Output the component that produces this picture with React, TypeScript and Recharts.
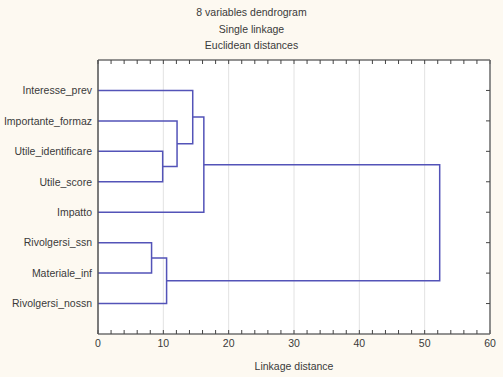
import { LineChart, Line, XAxis, YAxis, CartesianGrid } from 'recharts'

// leaves from top to bottom
const LEAVES = [
  'Interesse_prev',
  'Importante_formaz',
  'Utile_identificare',
  'Utile_score',
  'Impatto',
  'Rivolgersi_ssn',
  'Materiale_inf',
  'Rivolgersi_nossn',
]

// merge steps: node ids 0..7 are leaves, each merge creates node 8, 9, ...
const MERGE_A = [5, 2, 8, 1, 0, 12, 13]
const MERGE_B = [6, 3, 7, 9, 11, 4, 10]
const MERGE_DIST = [8.2, 9.9, 10.5, 12.1, 14.5, 16.2, 52.3]

const X_MAJOR = [0, 10, 20, 30, 40, 50, 60]
const X_MINOR = [0, 2, 4, 6, 8, 10, 12, 14, 16, 18, 20, 22, 24, 26, 28, 30, 32, 34, 36, 38, 40, 42, 44, 46, 48, 50, 52, 54, 56, 58, 60]
const Y_TICKS = [1, 2, 3, 4, 5, 6, 7, 8]

const TITLES = ['8 variables dendrogram', 'Single linkage', 'Euclidean distances']

const LINE = '#5353b8'
const FRAME = '#6e6e6e'
const TEXT = '#3a3a3a'
const FONT = '"Liberation Sans", Arial, sans-serif'

function buildLinks() {
  const pos: number[] = LEAVES.map((_, i) => i + 1)
  const height: number[] = LEAVES.map(() => 0)
  return MERGE_DIST.map((d, k) => {
    const a = MERGE_A[k]
    const b = MERGE_B[k]
    pos.push((pos[a] + pos[b]) / 2)
    height.push(d)
    return [
      { d: height[a], y: pos[a] },
      { d, y: pos[a] },
      { d, y: pos[b] },
      { d: height[b], y: pos[b] },
    ]
  })
}

const links = buildLinks()

const blank = () => ' '

export default function App() {
  return (
    <div style={{ position: 'absolute', left: 0, top: 0, width: 503, height: 377, background: '#fdf9f1', fontFamily: FONT }}>
      {TITLES.map((t, i) => (
        <div
          key={t}
          style={{
            position: 'absolute', left: 0, width: 503, top: 5 + i * 16.5,
            textAlign: 'center', fontSize: 10.5, color: TEXT, lineHeight: '14px',
          }}
        >
          {t}
        </div>
      ))}
      <LineChart width={503} height={377} margin={{ top: 60, right: 13, left: 0, bottom: 0 }}>
        <CartesianGrid horizontal={false} stroke="#e2e2e2" fill="#ffffff" />
        <XAxis
          dataKey="d"
          type="number"
          domain={[0, 60]}
          ticks={X_MAJOR}
          height={43}
          tickLine={false}
          tickSize={6}
          tickMargin={0}
          axisLine={{ stroke: FRAME, strokeWidth: 1.5 }}
          tick={{ fill: TEXT, fontSize: 10.5, fontFamily: FONT }}
          label={{ value: 'Linkage distance', position: 'insideBottom', offset: 7, fill: TEXT, fontSize: 10.5, fontFamily: FONT }}
        />
        <XAxis
          xAxisId="minorBottom"
          dataKey="d"
          type="number"
          domain={[0, 60]}
          ticks={X_MINOR}
          interval={0}
          mirror
          tickSize={4}
          tickFormatter={blank}
          axisLine={false}
          tickLine={{ stroke: '#444444', strokeWidth: 1 }}
        />
        <XAxis
          xAxisId="top"
          dataKey="d"
          orientation="top"
          type="number"
          domain={[0, 60]}
          ticks={X_MINOR}
          interval={0}
          mirror
          tickSize={4}
          tickFormatter={blank}
          axisLine={{ stroke: FRAME, strokeWidth: 1.5 }}
          tickLine={{ stroke: '#444444', strokeWidth: 1 }}
        />
        <YAxis
          type="number"
          domain={[0, 9]}
          reversed
          ticks={Y_TICKS}
          width={98}
          tickLine={false}
          tickSize={6}
          tickMargin={0}
          tickFormatter={(v: number) => LEAVES[v - 1] ?? ''}
          axisLine={{ stroke: '#555555', strokeWidth: 1.5 }}
          tick={{ fill: TEXT, fontSize: 10.5, fontFamily: FONT }}
        />
        <YAxis
          yAxisId="right"
          orientation="right"
          type="number"
          domain={[0, 9]}
          reversed
          ticks={Y_TICKS}
          interval={0}
          mirror
          tickSize={4}
          tickFormatter={blank}
          axisLine={{ stroke: FRAME, strokeWidth: 1.5 }}
          tickLine={{ stroke: '#444444', strokeWidth: 1 }}
        />
        {links.map((pts, i) => (
          <Line
            key={i}
            data={pts}
            dataKey="y"
            type="linear"
            stroke={LINE}
            strokeWidth={1.5}
            dot={false}
            activeDot={false}
            isAnimationActive={false}
          />
        ))}
        {/* invisible series that bind the frame axes */}
        <Line
          xAxisId="top"
          yAxisId="right"
          data={links[links.length - 1]}
          dataKey="y"
          stroke="none"
          dot={false}
          activeDot={false}
          isAnimationActive={false}
        />
        <Line
          xAxisId="minorBottom"
          data={links[links.length - 1]}
          dataKey="y"
          stroke="none"
          dot={false}
          activeDot={false}
          isAnimationActive={false}
        />
      </LineChart>
    </div>
  )
}
